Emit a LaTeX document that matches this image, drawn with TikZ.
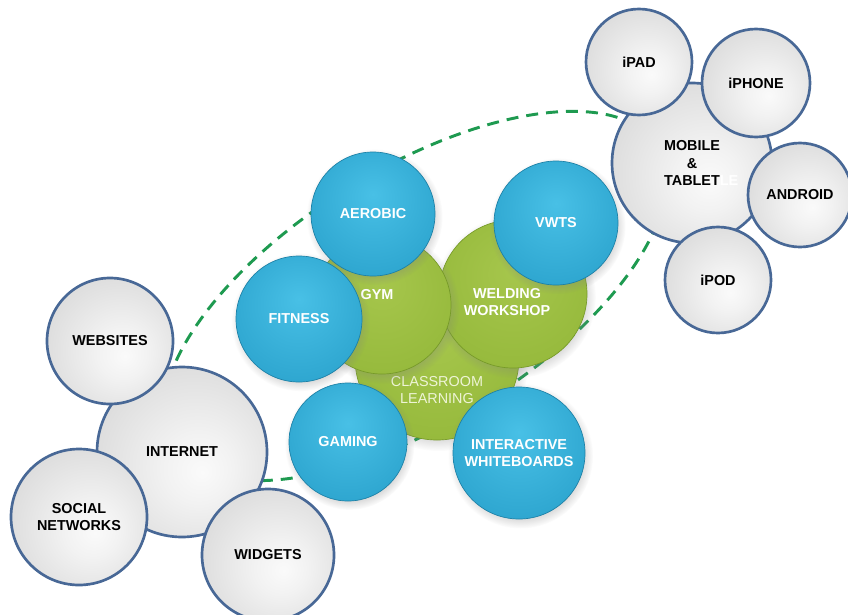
\documentclass[tikz,border=0pt]{standalone}
\usepackage{fontspec}
\setmainfont{Liberation Sans}
\usetikzlibrary{shadows}

\definecolor{rimgray}{RGB}{72,104,150}
\definecolor{blueedge}{RGB}{28,128,166}
\definecolor{greenedge}{RGB}{118,154,40}
\definecolor{dashgreen}{RGB}{30,154,80}
\definecolor{classtext}{RGB}{238,244,214}

\pgfdeclareradialshading{graysphere}{\pgfpoint{6bp}{-6bp}}{color(0bp)=(rgb,255:red,250;green,250;blue,250); color(10bp)=(rgb,255:red,242;green,242;blue,242); color(36bp)=(rgb,255:red,214;green,214;blue,214); color(52bp)=(rgb,255:red,174;green,174;blue,174); color(60bp)=(rgb,255:red,168;green,168;blue,168)}
\pgfdeclareradialshading{bluesphere}{\pgfpoint{0bp}{8bp}}{color(0bp)=(rgb,255:red,72;green,192;blue,230); color(32bp)=(rgb,255:red,44;green,164;blue,206); color(60bp)=(rgb,255:red,26;green,130;blue,170)}
\pgfdeclareradialshading{greensphere}{\pgfpoint{0bp}{8bp}}{color(0bp)=(rgb,255:red,166;green,198;blue,76); color(34bp)=(rgb,255:red,148;green,184;blue,58); color(60bp)=(rgb,255:red,120;green,156;blue,40)}

\tikzset{every picture/.style={line width=0.75pt},
  bubble/.style={circle, inner sep=0pt, minimum size=#1*1.5pt, align=center,
    font=\fontsize{10.8}{13}\selectfont\bfseries},
  graybub/.style={bubble=#1, draw=rimgray, line width=2pt, shade, shading=graysphere, text=black},
  bluebub/.style={bubble=#1, draw=blueedge, line width=0.5pt, shade, shading=bluesphere, text=white,
    circular drop shadow={opacity=0.3, shadow xshift=1pt, shadow yshift=-2pt}},
  greenbub/.style={bubble=#1, draw=greenedge, line width=0.5pt, shade, shading=greensphere,
    circular drop shadow={opacity=0.3, shadow xshift=1pt, shadow yshift=-2pt}},
  greentext/.style={align=center, text=white, font=\fontsize{10.8}{13}\selectfont\bfseries},
  dashring/.style={draw=dashgreen, line width=2.2pt, dash pattern=on 9pt off 6pt}}

\begin{document}
\begin{tikzpicture}[x=0.75pt,y=0.75pt,yscale=-1,xscale=1]
	\useasboundingbox (0,0) rectangle (848,614);

	%Shape: Ellipse [dashed ring]
	\coordinate (ringc) at (415,296);
	\draw[dashring, rotate around={-31.7:(ringc)}] (ringc) ellipse [x radius=285, y radius=127];

	% Internet group
	\node[graybub=85] (internet) at (182,452) {INTERNET};
	\node[graybub=63] (websites) at (110,341) {WEBSITES};
	\node[graybub=68] (social) at (79,517) {SOCIAL\\NETWORKS};
	\node[graybub=66] (widgets) at (268,555) {WIDGETS};

	% Mobile group
	\node[graybub=80] (mobile) at (692,163) {MOBILE\\\&\\TABLET\rlap{\color{white}LE}};
	\node[graybub=53] (ipad) at (639,62) {iPAD};
	\node[graybub=54] (iphone) at (756,83) {iPHONE};
	\node[graybub=52] (android) at (800,195) {ANDROID};
	\node[graybub=53] (ipod) at (718,280) {iPOD};

	% Green circles
	\node[greenbub=82] (classroom) at (437,358) {};
	\node[align=center, text=classtext, font=\fontsize{10.8}{12.5}\selectfont] (classlabel) at ([shift={(0,32)}]classroom.center) {CLASSROOM\\LEARNING};
	\node[greenbub=74] (welding) at (513,294) {};
	\node[greentext] (weldlabel) at ([shift={(-6,8)}]welding.center) {WELDING\\WORKSHOP};
	\node[greenbub=69] (gym) at (382,305) {};
	\node[greentext] (gymlabel) at ([shift={(-5,-10)}]gym.center) {GYM};

	% Blue circles
	\node[bluebub=62] (aerobic) at (373,214) {AEROBIC};
	\node[bluebub=62] (vwts) at (556,223) {VWTS};
	\node[bluebub=63] (fitness) at (299,319) {FITNESS};
	\node[bluebub=59] (gaming) at (348,442) {GAMING};
	\node[bluebub=66] (whiteboards) at (519,453) {INTERACTIVE\\WHITEBOARDS};

\end{tikzpicture}
\end{document}
